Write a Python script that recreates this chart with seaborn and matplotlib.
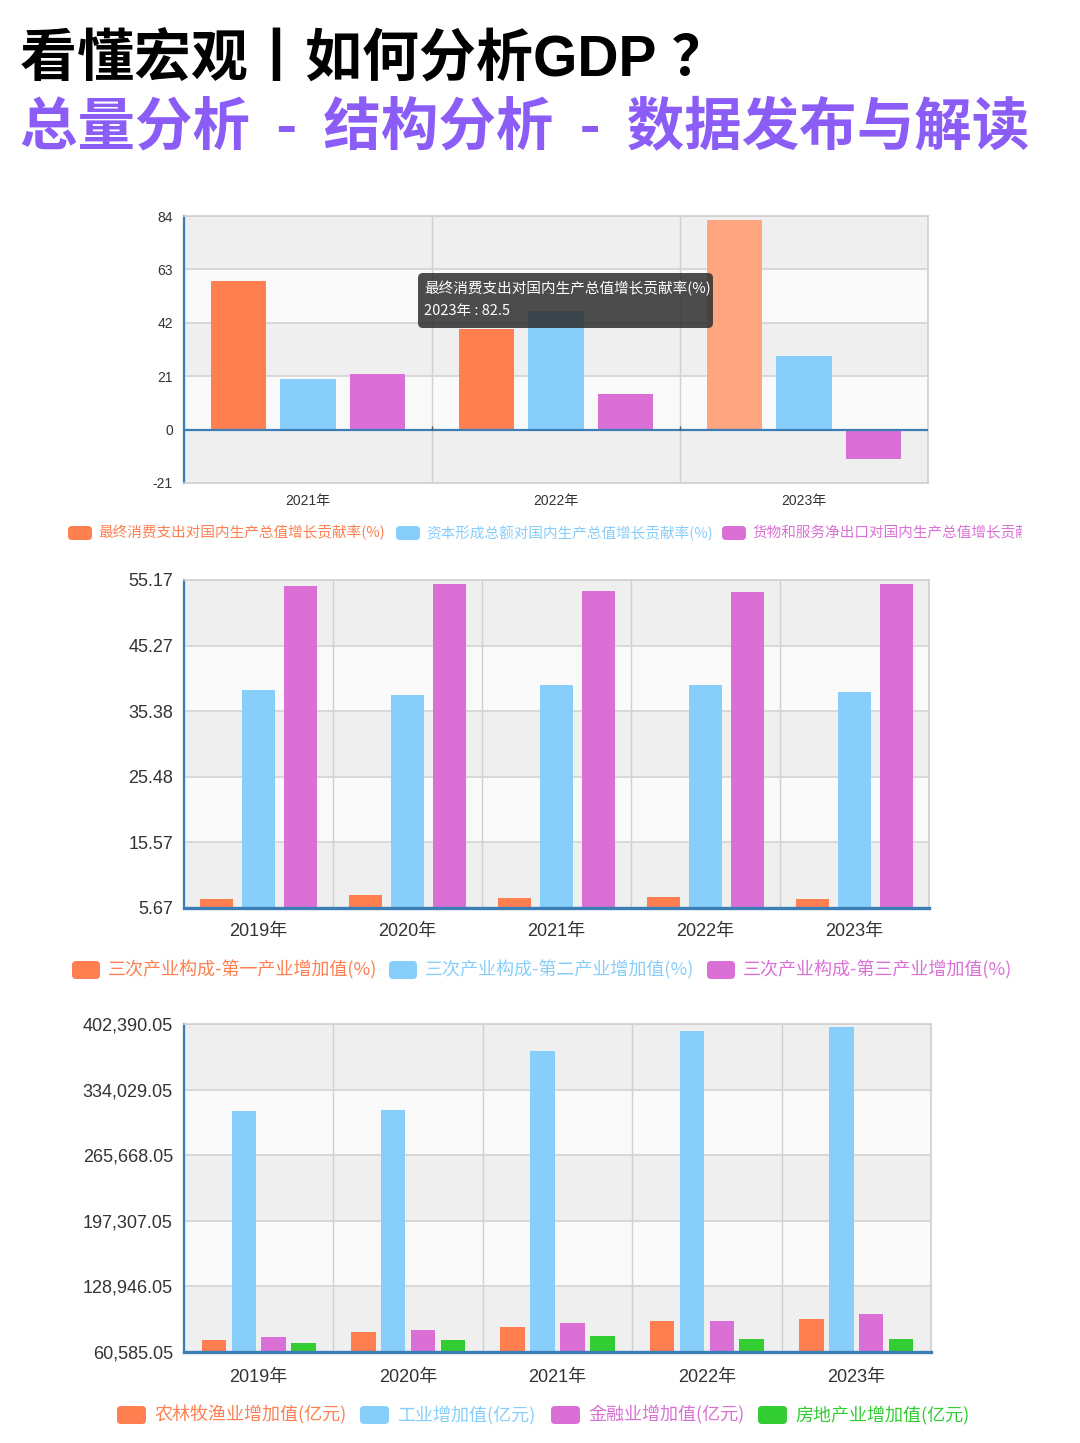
import numpy as np
import pandas as pd
import seaborn as sns
import matplotlib.pyplot as plt
from matplotlib.patches import FancyBboxPatch
from matplotlib.transforms import Bbox, TransformedBbox

# # # # # Data # # # # #

years_a = ['2021年', '2022年', '2023年']
consumption_rate = [58.3, 39.4, 82.5]
capital_rate = [19.8, 46.7, 28.9]
net_export_rate = [21.9, 13.9, -11.4]
names_a = ['最终消费支出对国内生产总值增长贡献率(%)', '资本形成总额对国内生产总值增长贡献率(%)',
           '货物和服务净出口对国内生产总值增长贡献率(%)']
yticks_a = [-21, 0, 21, 42, 63, 84]

years_b = ['2019年', '2020年', '2021年', '2022年', '2023年']
primary_share = [7.1, 7.7, 7.2, 7.3, 7.1]
secondary_share = [38.6, 37.8, 39.3, 39.3, 38.2]
tertiary_share = [54.3, 54.5, 53.5, 53.4, 54.6]
names_b = ['三次产业构成-第一产业增加值(%)', '三次产业构成-第二产业增加值(%)', '三次产业构成-第三产业增加值(%)']
yticks_b = [5.67, 15.57, 25.48, 35.38, 45.27, 55.17]

years_c = ['2019年', '2020年', '2021年', '2022年', '2023年']
agri_value = [73577, 81397, 86995, 92582, 94463]
industry_value = [311859, 313071, 374546, 395044, 399103]
finance_value = [76250, 83617, 90309, 93285, 100677]
estate_value = [70444, 73425, 77215, 73821, 73723]
names_c = ['农林牧渔业增加值(亿元)', '工业增加值(亿元)', '金融业增加值(亿元)', '房地产业增加值(亿元)']
yticks_c = [60585.05, 128946.05, 197307.05, 265668.05, 334029.05, 402390.05]

tooltip_lines = ['最终消费支出对国内生产总值增长贡献率(%)', '2023年 : 82.5']

colors = ['#FF7F50', '#87CEFA', '#DA70D6', '#32CD32']
highlight = '#FFA57F'
axis_blue = '#3D7DB5'

# # # # # Theme # # # # #
sns.set_style('white')
plt.rcParams['font.family'] = ['Liberation Sans', 'Noto Sans CJK SC', 'DejaVu Sans']
cjk = ['Noto Sans CJK SC', 'DejaVu Sans']

W, H = 1080, 1443
fig = plt.figure(figsize=(W / 100, H / 100), dpi=100)
fig.patch.set_facecolor('white')
px = fig.dpi_scale_trans


def P(x, y):
    # pixel position (top-left origin) -> inches
    return x / 100, (H - y) / 100


def make_axes(x0, y0, x1, y1):
    return fig.add_axes([x0 / W, 1 - y1 / H, (x1 - x0) / W, (y1 - y0) / H])


def long_frame(years, series, names):
    rows = []
    for name, values in zip(names, series):
        for yr, v in zip(years, values):
            rows.append({'year': yr, 'series': name, 'value': v})
    return pd.DataFrame(rows)


def style_axes(ax, years, ticks, labels, fs, blue_bottom, pad):
    n = len(years)
    ax.set_xlim(-0.5, n - 0.5)
    ax.set_ylim(ticks[0], ticks[-1])
    # alternating bands
    for i in range(len(ticks) - 1):
        c = '#EFEFEF' if (len(ticks) - 2 - i) % 2 == 0 else '#FAFAFA'
        ax.axhspan(ticks[i], ticks[i + 1], color=c, zorder=0, lw=0)
    ax.set_axisbelow(True)
    ax.set_yticks(ticks, labels)
    ax.set_xticks(range(n), years)
    ax.set_xticks(np.arange(-0.5, n), minor=True)
    ax.grid(axis='y', which='major', color='#D6D6D6', lw=1.3)
    ax.grid(axis='x', which='minor', color='#CFCFCF', lw=1.0)
    ax.set_xlabel('')
    ax.set_ylabel('')
    ax.spines['left'].set_color(axis_blue)
    ax.spines['left'].set_linewidth(1.6)
    for s in ['top', 'right']:
        ax.spines[s].set_color('#D0D0D0')
        ax.spines[s].set_linewidth(1.2)
    ax.tick_params(axis='y', length=0, pad=8, labelsize=fs, labelcolor='#333333')
    if blue_bottom:
        ax.spines['bottom'].set_color(axis_blue)
        ax.spines['bottom'].set_linewidth(2.4)
        ax.tick_params(axis='x', which='major', length=0, pad=pad, labelsize=fs, labelcolor='#333333')
        ax.tick_params(axis='x', which='minor', length=5, width=1.2, color='#333333', direction='out')
    else:
        ax.spines['bottom'].set_color('#D0D0D0')
        ax.spines['bottom'].set_linewidth(1.2)
        ax.tick_params(axis='x', which='both', length=0, pad=pad, labelsize=fs, labelcolor='#333333')


def legend_row(names, xs, y, sw, sh, offset, fs, clip_x=None):
    for name, x, c in zip(names, xs, colors):
        box = FancyBboxPatch(P(x, y + sh / 2), sw / 100, sh / 100,
                             boxstyle='round,pad=0,rounding_size=0.04',
                             transform=px, facecolor=c, edgecolor='none')
        fig.add_artist(box)
        t = fig.text(*P(x + offset, y), name, transform=px, color=c, fontsize=fs,
                     family=cjk, va='center', ha='left')
        if clip_x is not None:
            t.set_clip_box(TransformedBbox(Bbox([[0, 0], [clip_x / 100, H / 100]]), px))
            t.set_clip_on(True)


# # # # # Titles # # # # #
fig.text(*P(20, 61), '看懂宏观丨如何分析GDP ？', transform=px, fontsize=41, fontweight='bold',
         family=['Liberation Sans', 'Noto Sans CJK SC'], color='black', va='center')
fig.text(*P(20, 127), '总量分析  -  结构分析  -  数据发布与解读', transform=px, fontsize=41.4,
         fontweight='bold', family=cjk, color='#8B5CF6', va='center')

# # # # # Chart 1: contribution rates # # # # #
ax1 = make_axes(184, 216, 928, 483)
df_a = long_frame(years_a, [consumption_rate, capital_rate, net_export_rate], names_a)
sns.barplot(data=df_a, x='year', y='value', hue='series', palette=colors[:3], saturation=1,
            width=0.846, gap=0.213, legend=False, linewidth=0, edgecolor='none', ax=ax1)
ax1.containers[0][2].set_facecolor(highlight)
style_axes(ax1, years_a, yticks_a, [str(t) for t in yticks_a], 10, False, 8)
ax1.axhline(0, color=axis_blue, lw=1.6, zorder=3)
ax1.vlines(np.arange(0.5, len(years_a) - 1), 0, 1.6, color='#555555', lw=1, zorder=3)
legend_row(names_a, [68, 396, 722], 533, 24, 14, 30, 10.5, clip_x=1022)

# tooltip
tip = FancyBboxPatch(P(418, 328), 295 / 100, 55 / 100, boxstyle='round,pad=0,rounding_size=0.05',
                     transform=px, facecolor='#2E2E2E', alpha=0.85, edgecolor='none', zorder=5)
fig.add_artist(tip)
fig.text(*P(424, 289), tooltip_lines[0], transform=px, color='white', fontsize=10.5, family=cjk,
         va='center', zorder=6)
fig.text(*P(424, 311), tooltip_lines[1], transform=px, color='white', fontsize=10.5, family=cjk,
         va='center', zorder=6)

# # # # # Chart 2: industry structure # # # # #
ax2 = make_axes(184, 580, 929, 908)
df_b = long_frame(years_b, [primary_share, secondary_share, tertiary_share], names_b)
sns.barplot(data=df_b, x='year', y='value', hue='series', palette=colors[:3], saturation=1,
            width=0.837, gap=0.208, legend=False, linewidth=0, edgecolor='none', ax=ax2)
style_axes(ax2, years_b, yticks_b, ['%.2f' % t for t in yticks_b], 13, True, 11)
legend_row(names_b, [72, 389, 707], 970, 28, 18, 36, 13)

# # # # # Chart 3: value added by sector # # # # #
ax3 = make_axes(184, 1024, 931, 1352)
df_c = long_frame(years_c, [agri_value, industry_value, finance_value, estate_value], names_c)
sns.barplot(data=df_c, x='year', y='value', hue='series', palette=colors, saturation=1,
            width=0.8, gap=0.18, legend=False, linewidth=0, edgecolor='none', ax=ax3)
style_axes(ax3, years_c, yticks_c, ['{:,.2f}'.format(t) for t in yticks_c], 13, True, 12)
legend_row(names_c, [117, 360, 551, 758], 1415, 29, 18, 37, 13)

plt.savefig('out.png', dpi=100, facecolor='white')
